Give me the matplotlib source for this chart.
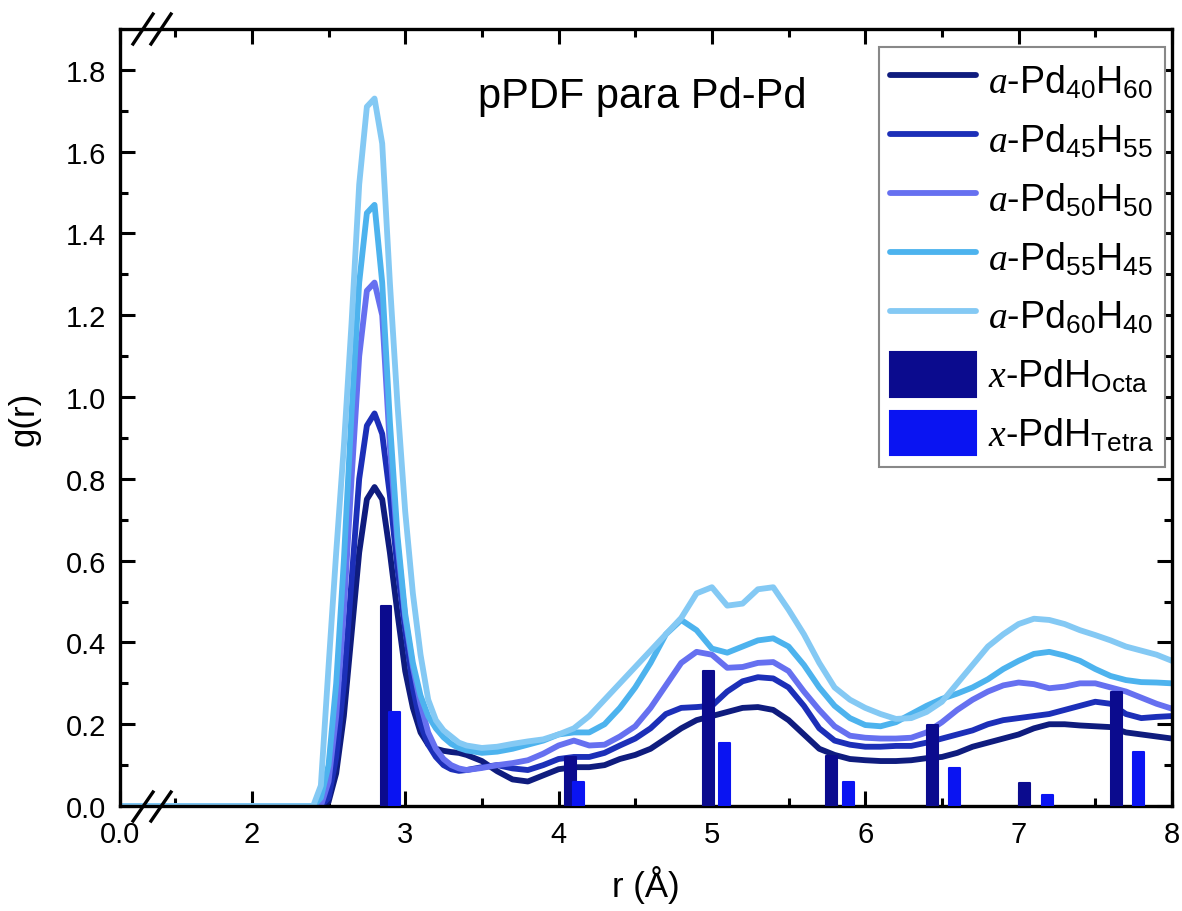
import matplotlib
matplotlib.use("Agg")
import matplotlib.pyplot as plt
import numpy as np

plt.rcParams['font.family'] = ['Liberation Sans', 'DejaVu Sans']
plt.rcParams['mathtext.fontset'] = 'custom'
plt.rcParams['mathtext.rm'] = 'Liberation Sans'
plt.rcParams['mathtext.it'] = 'Liberation Serif:italic'

# r values (Angstrom) shared by all curves
r = [0.0,
     2.40, 2.45, 2.50, 2.55, 2.60, 2.65, 2.70, 2.75, 2.80, 2.85, 2.90,
     2.95, 3.00, 3.05, 3.10, 3.15, 3.20, 3.25, 3.30, 3.35, 3.40,
     3.5, 3.6, 3.7, 3.8, 3.9, 4.0, 4.1, 4.2, 4.3, 4.4,
     4.5, 4.6, 4.7, 4.8, 4.9, 5.0, 5.1, 5.2, 5.3, 5.4,
     5.5, 5.6, 5.7, 5.8, 5.9, 6.0, 6.1, 6.2, 6.3, 6.4,
     6.5, 6.6, 6.7, 6.8, 6.9, 7.0, 7.1, 7.2, 7.3, 7.4,
     7.5, 7.6, 7.7, 7.8, 7.9, 8.0]

g_40_60 = [0.0,
           0.0, 0.0, 0.01, 0.08, 0.22, 0.42, 0.62, 0.75, 0.78, 0.75, 0.62,
           0.47, 0.33, 0.24, 0.18, 0.15, 0.14, 0.135, 0.132, 0.13, 0.125,
           0.11, 0.085, 0.065, 0.06, 0.075, 0.09, 0.095, 0.095, 0.1, 0.115,
           0.125, 0.14, 0.165, 0.19, 0.21, 0.22, 0.23, 0.24, 0.242, 0.235,
           0.21, 0.175, 0.14, 0.125, 0.115, 0.112, 0.11, 0.11, 0.112, 0.117,
           0.12, 0.13, 0.145, 0.155, 0.165, 0.175, 0.19, 0.2, 0.2, 0.197,
           0.195, 0.193, 0.18, 0.175, 0.17, 0.165]

g_45_55 = [0.0,
           0.0, 0.0, 0.02, 0.12, 0.30, 0.55, 0.80, 0.93, 0.96, 0.91, 0.76,
           0.58, 0.43, 0.29, 0.20, 0.15, 0.12, 0.10, 0.09, 0.086, 0.088,
           0.095, 0.1, 0.092, 0.088, 0.1, 0.115, 0.12, 0.12, 0.13, 0.148,
           0.165, 0.19, 0.225, 0.24, 0.242, 0.245, 0.28, 0.305, 0.315, 0.312,
           0.29, 0.245, 0.19, 0.16, 0.15, 0.145, 0.145, 0.147, 0.147, 0.155,
           0.165, 0.175, 0.185, 0.2, 0.21, 0.215, 0.22, 0.225, 0.235, 0.245,
           0.255, 0.25, 0.225, 0.215, 0.218, 0.22]

g_50_50 = [0.0,
           0.0, 0.0, 0.06, 0.22, 0.48, 0.80, 1.10, 1.26, 1.28, 1.20, 0.88,
           0.64, 0.46, 0.34, 0.25, 0.18, 0.14, 0.115, 0.10, 0.092, 0.088,
           0.093, 0.1, 0.105, 0.112, 0.128, 0.148, 0.16, 0.148, 0.15, 0.17,
           0.195, 0.24, 0.295, 0.35, 0.377, 0.37, 0.338, 0.34, 0.35, 0.352,
           0.33, 0.28, 0.235, 0.195, 0.172, 0.167, 0.165, 0.165, 0.167, 0.18,
           0.205, 0.235, 0.26, 0.28, 0.295, 0.302, 0.298, 0.288, 0.292, 0.3,
           0.3, 0.29, 0.28, 0.265, 0.25, 0.238]

g_55_45 = [0.0,
           0.0, 0.02, 0.10, 0.30, 0.60, 0.96, 1.28, 1.45, 1.47, 1.28, 0.94,
           0.66, 0.47, 0.35, 0.27, 0.22, 0.19, 0.168, 0.152, 0.142, 0.136,
           0.13, 0.133, 0.14, 0.15, 0.16, 0.175, 0.18, 0.18, 0.2, 0.24,
           0.29, 0.35, 0.42, 0.455, 0.43, 0.385, 0.375, 0.39, 0.405, 0.41,
           0.39, 0.345, 0.29, 0.245, 0.215, 0.198, 0.195, 0.205, 0.225, 0.245,
           0.262, 0.275, 0.29, 0.31, 0.335, 0.355, 0.372, 0.377, 0.368, 0.355,
           0.335, 0.318, 0.308, 0.303, 0.302, 0.30]

g_60_40 = [0.0,
           0.0, 0.05, 0.34, 0.62, 0.88, 1.18, 1.52, 1.71, 1.73, 1.62, 1.28,
           0.98, 0.72, 0.52, 0.37, 0.26, 0.21, 0.185, 0.17, 0.155, 0.148,
           0.142, 0.145, 0.152, 0.158, 0.163, 0.175, 0.19, 0.22, 0.26, 0.30,
           0.34, 0.38, 0.42, 0.46, 0.52, 0.535, 0.49, 0.495, 0.53, 0.535,
           0.48, 0.42, 0.35, 0.29, 0.26, 0.24, 0.225, 0.213, 0.215, 0.23,
           0.255, 0.30, 0.345, 0.39, 0.42, 0.445, 0.458, 0.455, 0.445, 0.43,
           0.418, 0.405, 0.39, 0.38, 0.37, 0.355]

# crystalline reference peaks
octa_r = [2.875, 4.08, 4.98, 5.78, 6.44, 7.04, 7.64]
octa_g = [0.49, 0.12, 0.33, 0.123, 0.198, 0.056, 0.28]
tetra_r = [2.93, 4.13, 5.08, 5.89, 6.58, 7.19, 7.78]
tetra_g = [0.23, 0.059, 0.154, 0.059, 0.093, 0.027, 0.132]

curves = [g_40_60, g_45_55, g_50_50, g_55_45, g_60_40]
labels = [r'$\mathit{a}$-Pd$_{40}$H$_{60}$', r'$\mathit{a}$-Pd$_{45}$H$_{55}$',
          r'$\mathit{a}$-Pd$_{50}$H$_{50}$', r'$\mathit{a}$-Pd$_{55}$H$_{45}$',
          r'$\mathit{a}$-Pd$_{60}$H$_{40}$']
colors = ['#0f1c7e', '#1c2fb8', '#6670f0', '#4db3ee', '#84c9f4']

# broken x axis: 0..1.5 squeezed into a short stretch
def fwd(x):
    x = np.asarray(x, dtype=float)
    return np.where(x < 1.5, 1.14 + x * 0.24, x)

def inv(y):
    y = np.asarray(y, dtype=float)
    return np.where(y < 1.5, (y - 1.14) / 0.24, y)

fig = plt.figure(figsize=(11.82, 9.12), dpi=100)
ax = fig.add_axes([0.1015, 0.1151, 0.8900, 0.8520])
ax.set_xscale('function', functions=(fwd, inv))

for g, lab, c in zip(curves, labels, colors):
    ax.plot(r, g, color=c, lw=4.2, label=lab, solid_joinstyle='round',
            solid_capstyle='round', zorder=2)

ax.bar(octa_r, octa_g, width=0.07, color='#0b0b8e', edgecolor='#0b0b8e', lw=1.5,
       joinstyle='round', label=r'$\mathit{x}$-PdH$_{\mathrm{Octa}}$', zorder=3)
ax.bar(tetra_r, tetra_g, width=0.07, color='#0a14f2', edgecolor='#0a14f2', lw=1.5,
       joinstyle='round', label=r'$\mathit{x}$-PdH$_{\mathrm{Tetra}}$', zorder=3)

ax.set_xlim(0, 8)
ax.set_ylim(0, 1.9)
ax.set_xticks([0, 2, 3, 4, 5, 6, 7, 8])
ax.set_xticklabels(['0.0', '2', '3', '4', '5', '6', '7', '8'])
ax.set_xticks([1.5, 2.5, 3.5, 4.5, 5.5, 6.5, 7.5], minor=True)
ax.set_yticks([0.0, 0.2, 0.4, 0.6, 0.8, 1.0, 1.2, 1.4, 1.6, 1.8])
ax.set_yticklabels(['0.0', '0.2', '0.4', '0.6', '0.8', '1.0', '1.2', '1.4', '1.6', '1.8'])
ax.set_yticks([0.1, 0.3, 0.5, 0.7, 0.9, 1.1, 1.3, 1.5, 1.7], minor=True)

ax.tick_params(which='both', direction='in', top=True, right=True, width=2.2,
               labelsize=21, pad=10)
ax.tick_params(which='major', length=11)
ax.tick_params(which='minor', length=6)
for s in ax.spines.values():
    s.set_linewidth(2.4)

ax.set_xlabel('r (Å)', fontsize=25, labelpad=12)
ax.set_ylabel('g(r)', fontsize=25, labelpad=18)

ax.text(0.496, 0.914, 'pPDF para Pd-Pd', transform=ax.transAxes, fontsize=30,
        ha='center', va='center')

# axis break marks
for y0, y1 in [(-0.0193, 0.018), (0.9807, 1.0193)]:
    for x0 in [0.0124, 0.0295]:
        ax.plot([x0, x0 + 0.019], [y0, y1], transform=ax.transAxes, color='black',
                lw=2.4, clip_on=False, zorder=5)

leg = ax.legend(loc='upper right', bbox_to_anchor=(0.9933, 0.977), borderaxespad=0,
                fontsize=27, handlelength=2.3, handleheight=1.45, labelspacing=0.38,
                handletextpad=0.3, borderpad=0.3, fancybox=False, framealpha=1)
leg.get_frame().set_edgecolor('#888888')
leg.get_frame().set_linewidth(1.5)

plt.savefig('out.png', dpi=100)
